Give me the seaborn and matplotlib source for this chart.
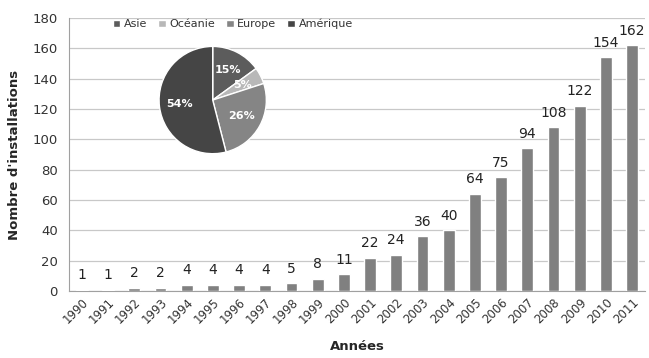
import matplotlib.pyplot as plt
import seaborn as sns
import pandas as pd

years = [str(y) for y in range(1990, 2012)]
installations = [1, 1, 2, 2, 4, 4, 4, 4, 5, 8, 11, 22, 24, 36, 40, 64, 75, 94, 108, 122, 154, 162]

regions = ['Asie', 'Océanie', 'Europe', 'Amérique']
shares = [15, 5, 26, 54]
region_colors = ['#5c5c5c', '#b8b8b8', '#858585', '#454545']

sns.set_style('white')
plt.rcParams['font.family'] = ['DejaVu Sans']

df = pd.DataFrame({'annee': years, 'n': installations})

fig = plt.figure(figsize=(6.49, 3.58), dpi=100)
ax = fig.add_axes([0.106, 0.187, 0.888, 0.763])

# main bar chart
sns.barplot(data=df, x='annee', y='n', color='#808080', width=0.45,
            saturation=1, ax=ax, zorder=3)
ax.set_ylim(0, 180)
ax.set_yticks(range(0, 181, 20))
ax.yaxis.grid(True, color='#c8c8c8', linewidth=0.9, zorder=0)
ax.set_axisbelow(True)
for s in ['top', 'right']:
    ax.spines[s].set_visible(False)
ax.spines['left'].set_color('#a0a0a0')
ax.spines['bottom'].set_color('#a0a0a0')
ax.tick_params(axis='y', labelsize=9.5, colors='#333333', length=0, pad=8)
ax.tick_params(axis='x', labelsize=8.5, colors='#333333', length=4, color='#a0a0a0',
               direction='out')
ax.set_xticks([i - 0.5 for i in range(len(years) + 1)], minor=True)
ax.tick_params(axis='x', which='minor', length=4, color='#a0a0a0')
ax.tick_params(axis='x', which='major', length=0)
plt.setp(ax.get_xticklabels(), rotation=45, ha='right', rotation_mode='anchor')
ax.set_xlim(-0.5, len(years) - 0.5)
ax.set_xlabel('Années', fontsize=9.5, fontweight='bold', labelpad=10)
ax.set_ylabel("Nombre d'installations", fontsize=9.5, fontweight='bold', labelpad=8)

for i, v in enumerate(installations):
    ax.text(i, v + 5, str(v), ha='center', va='bottom', fontsize=10, color='#222222')

# inset pie
pax = fig.add_axes([0.243, 0.567, 0.1695, 0.307])
wedges, texts, autotexts = pax.pie(shares, colors=region_colors, startangle=90,
                                   counterclock=False, autopct='%d%%',
                                   pctdistance=0.62, radius=1.22,
                                   textprops={'color': 'white', 'fontsize': 8,
                                              'fontweight': 'bold'})
pax.set_aspect('equal')

fig.legend(wedges, regions, loc='upper left', bbox_to_anchor=(0.158, 0.975),
           ncol=4, frameon=False, fontsize=8, handlelength=0.7, handleheight=0.7,
           handletextpad=0.3, columnspacing=1.0, labelcolor='#333333')

fig.savefig('out.png', dpi=100)
